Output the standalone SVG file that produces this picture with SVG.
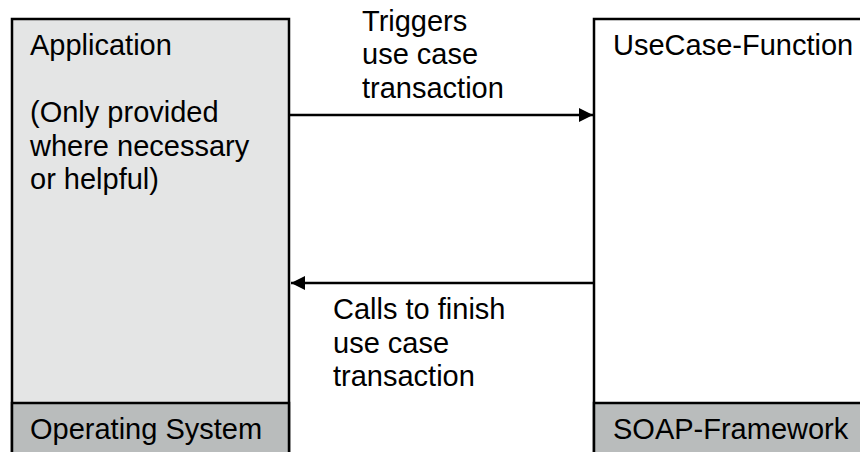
<svg xmlns="http://www.w3.org/2000/svg" width="860" height="452" viewBox="0 0 860 452">
<style>
.t{font-family:"Liberation Sans",Arial,sans-serif;font-size:29px;fill:#000}
.b{stroke:#000;stroke-width:2.5}
.c{stroke:#000;stroke-width:2.5;fill:none}
</style>
<defs>
<marker id="ah" viewBox="0 0 10 10" refX="10" refY="5" markerWidth="15" markerHeight="14" markerUnits="userSpaceOnUse" orient="auto">
<path d="M0,0 L10,5 L0,10 Z" fill="#000"/>
</marker>
</defs>
<rect width="860" height="452" fill="#fff"/>
<g id="application">
<rect class="b" x="12" y="19" width="277" height="445" fill="#e4e5e5"/>
<text class="t" x="30" y="55">Application</text>
<text class="t" x="30" y="122">(Only provided</text>
<text class="t" x="30" y="155.5">where necessary</text>
<text class="t" x="30" y="189">or helpful)</text>
</g>
<g id="operating-system">
<rect class="b" x="12" y="403" width="277" height="61" fill="#b9bcbc"/>
<text class="t" x="30" y="439">Operating System</text>
</g>
<g id="usecase-function">
<rect class="b" x="594" y="19" width="280" height="445" fill="#fff"/>
<text class="t" x="613" y="55">UseCase-Function</text>
</g>
<g id="soap-framework">
<rect class="b" x="594" y="403" width="280" height="61" fill="#b9bcbc"/>
<text class="t" x="613" y="439">SOAP-Framework</text>
</g>
<g id="connectors">
<line class="c" x1="290" y1="115" x2="593" y2="115" marker-end="url(#ah)"/>
<text class="t" x="362" y="30.5">Triggers</text>
<text class="t" x="362" y="64">use case</text>
<text class="t" x="362" y="97.5">transaction</text>
<line class="c" x1="594" y1="283" x2="291" y2="283" marker-end="url(#ah)"/>
<text class="t" x="333" y="319">Calls to finish</text>
<text class="t" x="333" y="352.5">use case</text>
<text class="t" x="333" y="386">transaction</text>
</g>
</svg>
